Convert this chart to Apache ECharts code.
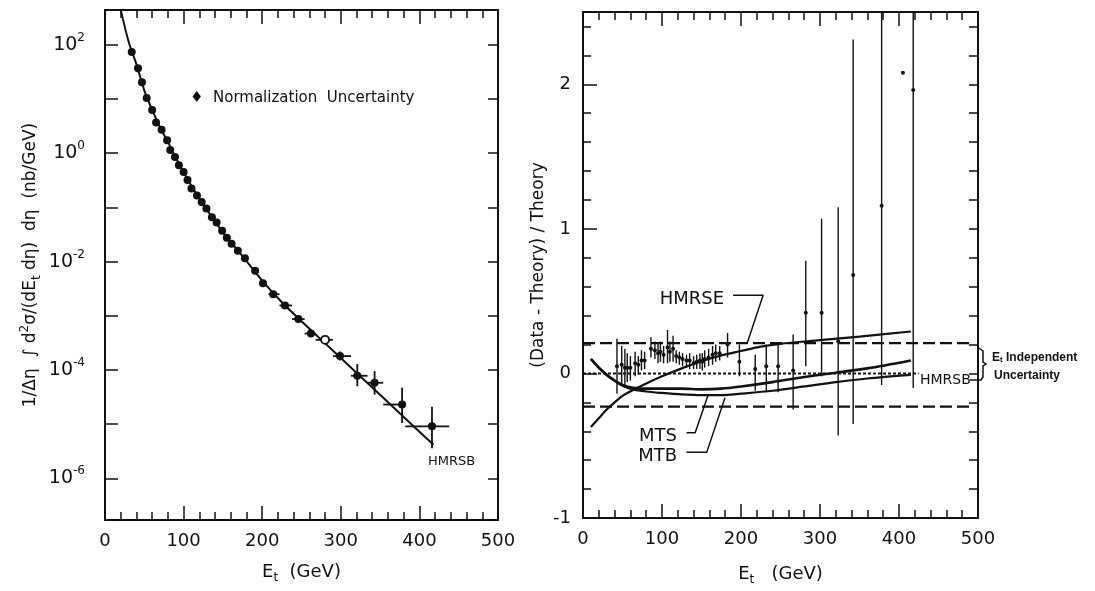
<!DOCTYPE html>
<html>
<head>
<meta charset="utf-8">
<script src="https://cdn.jsdelivr.net/npm/echarts@6/dist/echarts.min.js"></script>
<style>
  html, body { margin: 0; background: #fff; }
  #chart { width: 1095px; height: 591px; }
</style>
</head>
<body>
<div id="chart"></div>
<script>
// ---- left panel: inclusive jet cross section vs Et ----
const leftE = [34, 42, 47, 53, 60, 65, 72, 79, 83, 89, 94, 100, 105, 110, 117, 123, 129, 136, 142, 149,
  155, 161, 169, 178, 191, 201, 214, 229, 246, 262, 280, 299, 321, 343, 378, 416];
const leftVal = [74, 37, 20.4, 10.5, 6.3, 3.7, 2.7, 1.74, 1.15, 0.85, 0.6, 0.45, 0.32, 0.224, 0.166, 0.126,
  0.0955, 0.066, 0.0525, 0.0372, 0.0275, 0.0214, 0.0158, 0.0115, 6.8e-3, 4.0e-3, 2.5e-3, 1.55e-3, 8.7e-4,
  4.7e-4, 3.6e-4, 1.8e-4, 7.8e-5, 5.8e-5, 2.3e-5, 9.1e-6];
const hollowE = [280];

// bins and vertical errors of the high Et points
const binE = [214, 229, 246, 262, 280, 299, 321, 343, 378, 416];
const binLo = [208, 222, 238, 254, 268, 290, 313, 334, 354, 382];
const binHi = [222, 238, 254, 268, 290, 313, 334, 354, 382, 438];
const errLo = [2.3e-3, 1.4e-3, 7.9e-4, 4.2e-4, 3.2e-4, 1.5e-4, 5.0e-5, 3.5e-5, 1.05e-5, 3.6e-6];
const errHi = [2.7e-3, 1.7e-3, 9.5e-4, 5.3e-4, 4.1e-4, 2.2e-4, 1.29e-4, 9.5e-5, 4.7e-5, 2.1e-5];

// HMRSB theory curve
const theoryE = [20, 30, 40, 50, 60, 70, 80, 90, 100, 115, 130, 150, 175, 200, 225, 250, 275, 300, 350, 400, 418];
const theoryVal = [447, 115, 43.6, 14.5, 6.31, 3.02, 1.62, 0.832, 0.447, 0.191, 0.0891, 0.0347, 0.0126,
  4.47e-3, 1.78e-3, 7.94e-4, 3.63e-4, 1.66e-4, 3.47e-5, 7.24e-6, 4.17e-6];

// ---- right panel: (Data - Theory) / Theory ----
const rE = [43, 49, 53, 56, 60, 66, 70, 74, 78, 86, 91, 95, 98, 102, 107, 110, 114, 118, 122, 126, 131, 135,
  140, 144, 148, 151, 154, 159, 164, 168, 173, 183, 198, 218, 232, 247, 266, 282, 302, 323, 342, 378, 418];
const rVal = [0.05, 0.06, 0.04, 0.04, 0.04, 0.07, 0.06, 0.09, 0.09, 0.17, 0.16, 0.14, 0.15, 0.13, 0.18, 0.15,
  0.17, 0.12, 0.11, 0.1, 0.09, 0.09, 0.07, 0.08, 0.09, 0.08, 0.1, 0.11, 0.13, 0.14, 0.14, 0.2, 0.08, 0.03,
  0.05, 0.05, 0.02, 0.42, 0.42, 0.22, 0.68, 1.16, 1.96];
const rLo = [-0.14, -0.08, -0.1, -0.06, -0.05, -0.02, -0.01, 0.02, 0.03, 0.11, 0.1, 0.07, 0.08, 0.07, 0.07,
  0.08, 0.08, 0.07, 0.06, 0.05, 0.04, 0.03, 0.03, 0.03, 0.03, 0.02, 0.04, 0.05, 0.06, 0.08, 0.09, 0.11,
  -0.02, -0.12, -0.13, -0.13, -0.25, 0.05, -0.02, -0.43, -0.35, -0.08, -0.1];
const rHi = [0.24, 0.19, 0.17, 0.14, 0.12, 0.15, 0.12, 0.16, 0.15, 0.25, 0.22, 0.21, 0.22, 0.19, 0.3, 0.22,
  0.26, 0.16, 0.15, 0.14, 0.13, 0.14, 0.12, 0.13, 0.14, 0.14, 0.16, 0.17, 0.19, 0.2, 0.19, 0.28, 0.2, 0.13,
  0.2, 0.2, 0.27, 0.78, 1.07, 1.15, 2.31, 2.5, 2.5];
const strayE = [405];
const strayVal = [2.08];

const hmrseE = [10, 20, 30, 40, 50, 65, 80, 100, 125, 150, 175, 200, 225, 250, 300, 350, 415];
const hmrseVal = [-0.37, -0.31, -0.25, -0.2, -0.155, -0.11, -0.07, -0.02, 0.035, 0.085, 0.125, 0.155, 0.185,
  0.205, 0.23, 0.255, 0.29];
const mtE = [10, 20, 30, 40, 50, 63, 80, 100, 125, 150, 175, 200, 240, 280, 320, 360, 415];
const mtsVal = [0.1, 0.04, -0.01, -0.05, -0.08, -0.1, -0.105, -0.105, -0.105, -0.11, -0.105, -0.09, -0.06,
  -0.025, 0.005, 0.035, 0.09];
const mtbVal = [0.1, 0.04, -0.01, -0.05, -0.085, -0.11, -0.125, -0.135, -0.145, -0.15, -0.15, -0.14, -0.12,
  -0.09, -0.06, -0.035, -0.01];

// Et independent uncertainty band and the HMRSB reference line
const bandE = [0, 490];
const bandHi = 0.21;
const bandLo = -0.23;
const hmrsbE = [0, 425];

// label leader lines, in data units
const hmrseLeader = [[190, 0.54], [228, 0.54], [207.6, 0.205]];
const mtsLeader = [[131, -0.41], [142, -0.41], [158.6, -0.146]];
const mtbLeader = [[131, -0.546], [156.6, -0.546], [179.7, -0.169]];

const xTicks = [0, 100, 200, 300, 400, 500];

const ink = '#111';
const font = 'DejaVu Sans';
const zip = (xs, ys) => xs.map((x, i) => [x, ys[i]]);

const supRich = {
  b: { fontSize: 19, fontFamily: font, color: ink, lineHeight: 26 },
  s: { fontSize: 12, fontFamily: font, color: ink, lineHeight: 12, verticalAlign: 'top' }
};
const nameRich = {
  sub: { fontSize: 12, fontFamily: font, color: ink, lineHeight: 12, verticalAlign: 'bottom' },
  sup: { fontSize: 12, fontFamily: font, color: ink, lineHeight: 12, verticalAlign: 'top' }
};

function xAxis(grid, pos, name, gap) {
  return {
    type: 'value', gridIndex: grid, position: pos,
    min: xTicks[0], max: xTicks[xTicks.length - 1], interval: 100,
    axisLine: { show: true, onZero: false, lineStyle: { color: ink, width: 2 } },
    axisTick: { show: true, inside: true, length: 14, lineStyle: { color: ink, width: 1.5 } },
    minorTick: { show: true, splitNumber: 5, length: 8, lineStyle: { color: ink, width: 1.5 } },
    splitLine: { show: false },
    axisLabel: { show: pos === 'bottom', margin: 12, fontFamily: font, fontSize: 18, color: ink },
    name: name, nameLocation: 'middle', nameGap: gap,
    nameTextStyle: { fontFamily: font, fontSize: 18, color: ink, lineHeight: 24, rich: nameRich }
  };
}

function logLabel(v) {
  const e = Math.log10(v);
  const n = Math.round(e);
  if (Math.abs(e - n) > 0.01 || n % 2 !== 0) return '';
  return '{b|10}{s|' + n + '}';
}

const option = {
  animation: false,
  backgroundColor: '#fff',
  grid: [
    { left: 105, top: 10, width: 393, height: 510 },
    { left: 583, top: 12, width: 395, height: 511 }
  ],
  xAxis: [
    xAxis(0, 'bottom', 'E{sub|t}  (GeV)', 40),
    xAxis(0, 'top', '', 0),
    xAxis(1, 'bottom', 'E{sub|t}   (GeV)', 44),
    xAxis(1, 'top', '', 0)
  ],
  yAxis: [
    {
      type: 'log', gridIndex: 0, position: 'left', logBase: 10, min: 1.7e-7, max: 440,
      axisLine: { show: true, onZero: false, lineStyle: { color: ink, width: 2 } },
      axisTick: { show: true, inside: true, length: 13, lineStyle: { color: ink, width: 1.5 } },
      splitLine: { show: false },
      axisLabel: { margin: 20, formatter: logLabel, rich: supRich },
      name: '1/Δη  ∫ d{sup|2}σ/(dE{sub|t} dη)  dη  (nb/GeV)',
      nameLocation: 'middle', nameGap: 62,
      nameTextStyle: { fontFamily: font, fontSize: 17, color: ink, lineHeight: 24, rich: nameRich }
    },
    {
      type: 'log', gridIndex: 0, position: 'right', logBase: 10, min: 1.7e-7, max: 440,
      axisLine: { show: true, onZero: false, lineStyle: { color: ink, width: 2 } },
      axisTick: { show: true, inside: true, length: 10, lineStyle: { color: ink, width: 1.5 } },
      splitLine: { show: false },
      axisLabel: { show: false }
    },
    {
      type: 'value', gridIndex: 1, position: 'left', min: -1, max: 2.5, interval: 1,
      axisLine: { show: true, onZero: false, lineStyle: { color: ink, width: 2 } },
      axisTick: { show: true, inside: true, length: 14, lineStyle: { color: ink, width: 1.5 } },
      minorTick: { show: true, splitNumber: 5, length: 8, lineStyle: { color: ink, width: 1.5 } },
      splitLine: { show: false },
      axisLabel: {
        margin: 12, fontFamily: font, fontSize: 18, color: ink,
        formatter: v => (Number.isInteger(v) ? String(v) : '')
      },
      name: '(Data - Theory) / Theory', nameLocation: 'middle', nameGap: 36,
      nameTextStyle: { fontFamily: font, fontSize: 17, color: ink }
    },
    {
      type: 'value', gridIndex: 1, position: 'right', min: -1, max: 2.5, interval: 1,
      axisLine: { show: true, onZero: false, lineStyle: { color: ink, width: 2 } },
      axisTick: { show: true, inside: true, length: 9, lineStyle: { color: ink, width: 1.5 } },
      minorTick: { show: true, splitNumber: 5, length: 9, lineStyle: { color: ink, width: 1.5 } },
      splitLine: { show: false },
      axisLabel: { show: false }
    }
  ],
  series: [
    {
      name: 'HMRSB', type: 'line', xAxisIndex: 0, yAxisIndex: 0, smooth: 0.3, symbol: 'none',
      lineStyle: { color: ink, width: 2 }, data: zip(theoryE, theoryVal), z: 3
    },
    {
      name: 'left errors', type: 'custom', xAxisIndex: 0, yAxisIndex: 0, clip: true,
      data: binE.map((e, i) => [e, leftVal[leftE.indexOf(e)], errLo[i], errHi[i], binLo[i], binHi[i]]),
      renderItem: (params, api) => {
        const pLo = api.coord([api.value(0), api.value(2)]);
        const pHi = api.coord([api.value(0), api.value(3)]);
        const pL = api.coord([api.value(4), api.value(1)]);
        const pR = api.coord([api.value(5), api.value(1)]);
        const st = { stroke: ink, lineWidth: 1.8 };
        return {
          type: 'group', children: [
            { type: 'line', shape: { x1: pLo[0], y1: pLo[1], x2: pHi[0], y2: pHi[1] }, style: st },
            { type: 'line', shape: { x1: pL[0], y1: pL[1], x2: pR[0], y2: pR[1] }, style: st }
          ]
        };
      },
      z: 4
    },
    {
      name: 'data', type: 'scatter', xAxisIndex: 0, yAxisIndex: 0, symbol: 'circle', symbolSize: 8,
      itemStyle: { color: ink, opacity: 1 },
      data: zip(leftE, leftVal).filter(p => !hollowE.includes(p[0])), z: 5
    },
    {
      name: 'data open', type: 'scatter', xAxisIndex: 0, yAxisIndex: 0, symbol: 'circle', symbolSize: 8,
      itemStyle: { color: '#fff', borderColor: ink, borderWidth: 1.8, opacity: 1 },
      data: zip(leftE, leftVal).filter(p => hollowE.includes(p[0])), z: 5
    },

    // right panel
    {
      name: 'band hi', type: 'line', xAxisIndex: 2, yAxisIndex: 2, symbol: 'none',
      lineStyle: { color: ink, width: 2.2, type: [12, 5] }, data: bandE.map(e => [e, bandHi])
    },
    {
      name: 'band lo', type: 'line', xAxisIndex: 2, yAxisIndex: 2, symbol: 'none',
      lineStyle: { color: ink, width: 2.2, type: [12, 5] }, data: bandE.map(e => [e, bandLo])
    },
    {
      name: 'HMRSB zero', type: 'line', xAxisIndex: 2, yAxisIndex: 2, symbol: 'none',
      lineStyle: { color: ink, width: 2, type: [3, 2] }, data: hmrsbE.map(e => [e, 0])
    },
    {
      name: 'HMRSE', type: 'line', xAxisIndex: 2, yAxisIndex: 2, smooth: 0.3, symbol: 'none',
      lineStyle: { color: ink, width: 2.2 }, data: zip(hmrseE, hmrseVal)
    },
    {
      name: 'MTS', type: 'line', xAxisIndex: 2, yAxisIndex: 2, smooth: 0.3, symbol: 'none',
      lineStyle: { color: ink, width: 2.6 }, data: zip(mtE, mtsVal)
    },
    {
      name: 'MTB', type: 'line', xAxisIndex: 2, yAxisIndex: 2, smooth: 0.3, symbol: 'none',
      lineStyle: { color: ink, width: 2.2 }, data: zip(mtE, mtbVal)
    },
    {
      name: 'right errors', type: 'custom', xAxisIndex: 2, yAxisIndex: 2, clip: true,
      data: rE.map((e, i) => [e, rLo[i], rHi[i]]),
      renderItem: (params, api) => {
        const p1 = api.coord([api.value(0), api.value(1)]);
        const p2 = api.coord([api.value(0), api.value(2)]);
        return {
          type: 'line', shape: { x1: p1[0], y1: p1[1], x2: p2[0], y2: p2[1] },
          style: { stroke: ink, lineWidth: 1.4 }
        };
      }
    },
    {
      name: 'ratio', type: 'scatter', xAxisIndex: 2, yAxisIndex: 2, symbol: 'circle', symbolSize: 4,
      itemStyle: { color: ink, opacity: 1 }, data: zip(rE, rVal).concat(zip(strayE, strayVal))
    },
    ...[hmrseLeader, mtsLeader, mtbLeader].map(pts => ({
      type: 'line', xAxisIndex: 2, yAxisIndex: 2, symbol: 'none',
      lineStyle: { color: ink, width: 1.5 }, data: pts
    }))
  ],
  graphic: [
    { type: 'text', left: 190, top: 91, style: { text: '♦', font: '15px "DejaVu Sans"', fill: ink } },
    { type: 'text', left: 213, top: 91, style: { text: 'Normalization  Uncertainty', font: '15px "DejaVu Sans"', fill: ink } },
    { type: 'text', left: 428, top: 455, style: { text: 'HMRSB', font: '13px "DejaVu Sans"', fill: ink } },
    { type: 'text', right: 1095 - 724, top: 290, style: { text: 'HMRSE', font: '18px "DejaVu Sans"', fill: ink } },
    { type: 'text', right: 1095 - 677, top: 427, style: { text: 'MTS', font: '18px "DejaVu Sans"', fill: ink } },
    { type: 'text', right: 1095 - 677, top: 447, style: { text: 'MTB', font: '18px "DejaVu Sans"', fill: ink } },
    { type: 'text', left: 920, top: 373, style: { text: 'HMRSB', font: '14px "DejaVu Sans"', fill: ink } },
    {
      type: 'polyline', shape: { points: [[970, 380], [981, 380], [983, 377], [983, 366], [986, 364], [983, 362], [983, 351], [979, 348]] },
      style: { stroke: ink, lineWidth: 1.5, fill: null }
    },
    {
      type: 'text', left: 992, top: 352,
      style: {
        text: 'E{s|t} Independent', font: 'bold 12px "Liberation Sans"', fill: ink,
        rich: { s: { fontSize: 8, fontWeight: 'bold', fontFamily: 'Liberation Sans', fill: ink, verticalAlign: 'bottom' } }
      }
    },
    { type: 'text', left: 994, top: 370, style: { text: 'Uncertainty', font: 'bold 12px "Liberation Sans"', fill: ink } }
  ]
};

echarts.init(document.getElementById('chart'), null, { renderer: 'canvas' }).setOption(option);
</script>
</body>
</html>
